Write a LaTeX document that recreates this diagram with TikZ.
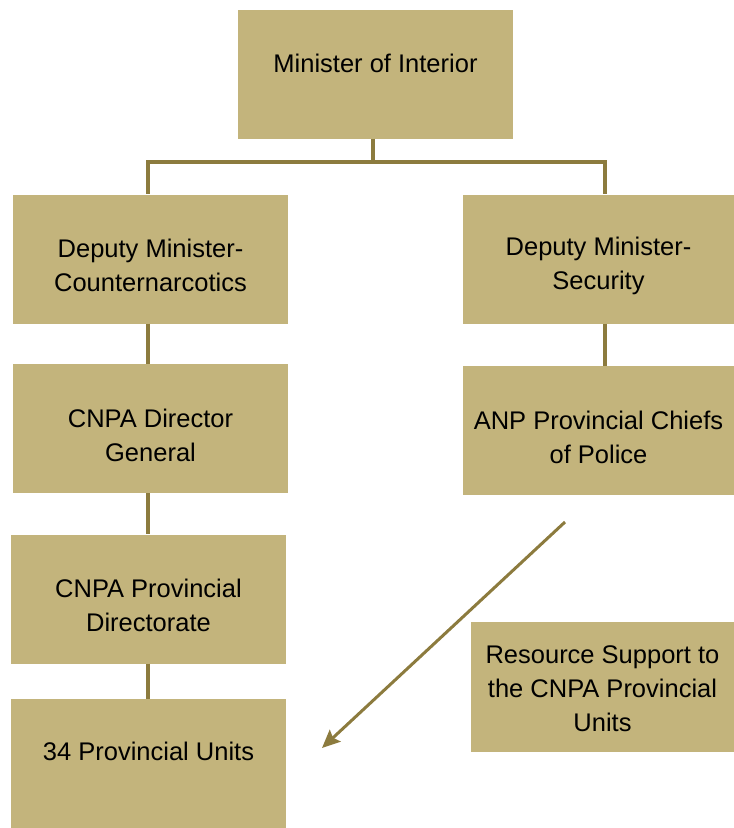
\documentclass[tikz,border=0pt]{standalone}
\usepackage{fontspec}
\setmainfont{Liberation Sans}
\usetikzlibrary{arrows.meta,positioning}
\definecolor{boxfill}{HTML}{C3B47C}
\definecolor{linkcol}{HTML}{8C7B3E}

\begin{document}
\begin{tikzpicture}[x=1pt,y=1pt,
                    box/.style={fill=boxfill,draw=none,align=center,
                      minimum width=275pt,minimum height=129pt,
                      font=\fontsize{25.5}{34}\selectfont},
                    twoline/.style={box,text height=66pt},
                    link/.style={draw=linkcol,line width=3.6pt},
                    >={Stealth[length=18pt,width=16pt,inset=3pt]}]

  \useasboundingbox (0,0) rectangle (734,-828);

  \node[box,text depth=22pt]              (min) at (375.5,-74)  {Minister of Interior};
  \node[twoline]                          (dmc) at (150.5,-259) {Deputy Minister-\\Counternarcotics};
  \node[twoline,minimum width=271pt]      (dms) at (598.5,-259) {Deputy Minister-\\Security};
  \node[twoline]                          (cdg) at (150.5,-428.5) {CNPA Director\\General};
  \node[twoline,minimum width=271pt]      (anp) at (598.5,-430.5) {ANP Provincial Chiefs\\of Police};
  \node[twoline]                          (cpd) at (148.5,-599) {CNPA Provincial\\Directorate};
  \node[box,text height=90pt,minimum width=263pt,minimum height=130pt]
                                          (res) at (602.5,-687) {Resource Support to\\the CNPA Provincial\\Units};
  \node[box,text depth=24pt]              (pu)  at (148.5,-763.5) {34 Provincial Units};

  \coordinate (split) at (373,-162);
  \coordinate (astart) at (565,-522);
  \coordinate (aend)   at (322,-748);

  \path[link] (min.south -| split) -- (split)
              (split) -| (dmc.north -| 148,0)
              (split) -| (dms.north -| 605,0)
              (dmc.south -| 148,0) -- (cdg.north -| 148,0)
              (cdg.south -| 148,0) -- (cpd.north -| 148,0)
              (cpd.south -| 148,0) -- (pu.north -| 148,0)
              (dms.south -| 605,0) -- (anp.north -| 605,0);

  \draw[link,line width=3pt,->] (astart) -- (aend);
\end{tikzpicture}
\end{document}
